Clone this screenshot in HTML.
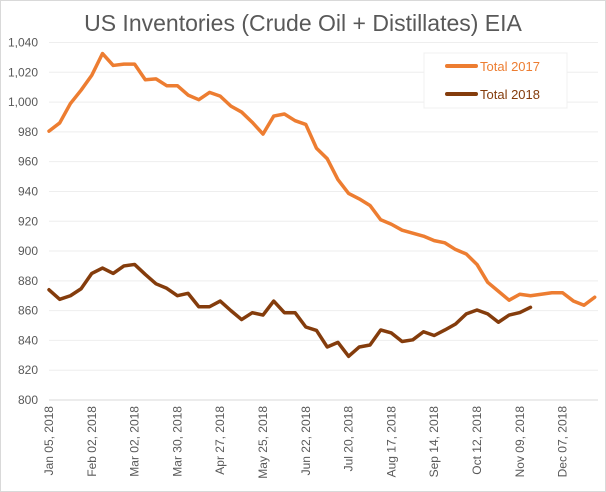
<!DOCTYPE html>
<html><head><meta charset="utf-8"><style>
html,body{margin:0;padding:0;background:#fff;}
svg{display:block;font-family:"Liberation Sans",sans-serif;}
</style></head><body>
<svg id="chart" width="606" height="492">
<rect x="0.5" y="0.5" width="605" height="491" fill="#fff" stroke="#d9d9d9"/>
<text x="303" y="31" text-anchor="middle" font-size="23" fill="#595959">US Inventories (Crude Oil + Distillates) EIA</text>
<g id="grid"></g><g id="yt"></g><g id="xt"></g><g id="lines"></g>
<g>
<rect x="424" y="53" width="143" height="55" fill="#fff" stroke="#f0f0f0"/>
<line x1="447" y1="66" x2="476" y2="66" stroke="#ED7D31" stroke-width="4" stroke-linecap="round"/>
<text x="480" y="71" font-size="13" fill="#ED7D31">Total 2017</text>
<line x1="447" y1="94" x2="476" y2="94" stroke="#843C0C" stroke-width="4" stroke-linecap="round"/>
<text x="480" y="99" font-size="13" fill="#843C0C">Total 2018</text>
</g>
</svg>
<script>
const yTicks=[800,820,840,860,880,900,920,940,960,980,1000,1020,1040];
const xLabels=["Jan 05, 2018","Feb 02, 2018","Mar 02, 2018","Mar 30, 2018","Apr 27, 2018","May 25, 2018","Jun 22, 2018","Jul 20, 2018","Aug 17, 2018","Sep 14, 2018","Oct 12, 2018","Nov 09, 2018","Dec 07, 2018"];
const total2017=[980.5,986,999,1008,1018,1032.6,1024.6,1025.5,1025.5,1015,1015.6,1011,1011,1004.7,1001.6,1006.5,1004,997.3,993.3,986.4,978.5,990.6,992,987.5,985,969,962,948,938.7,935,930.6,921,918,914,912,910,907,905.5,901,898,891,879,873,867,871,870,871,872,872,866.5,863.6,869];
const total2018=[874,867.6,870,874.7,885,888.6,885,890,891,884.3,878,875,870,871.6,862.6,862.6,866.4,860,854,858.6,857,866.4,858.6,858.6,849,846.7,835.6,838.7,829.3,835.6,836.9,847,845,839.3,840.4,845.8,843.3,847,851,857.8,860.4,857.8,852.2,857,858.7,862.2];
const NS="http://www.w3.org/2000/svg";
const X0=49,XSTEP=10.7,Y0=400,Y1=42.5,VMIN=800,VMAX=1040;
function xs(i){return X0+i*XSTEP;}
function ys(v){return Y0-(v-VMIN)/(VMAX-VMIN)*(Y0-Y1);}
function mk(tag,attrs,parent){const e=document.createElementNS(NS,tag);for(const k in attrs)e.setAttribute(k,attrs[k]);document.getElementById(parent).appendChild(e);return e;}
yTicks.forEach(v=>{
  const g=mk('line',{x1:X0,x2:598,y1:ys(v),y2:ys(v),stroke:v===VMIN?'#d9d9d9':'#eeeeee','stroke-width':1},'grid');
  
  
  const t=mk('text',{x:38,y:ys(v)+4,'text-anchor':'end','font-size':12,fill:'#595959'},'yt');
  t.textContent=v.toLocaleString('en-US');
  
  
});
xLabels.forEach((l,j)=>{
  const x=xs(j*4)+4,y=406;
  const t=mk('text',{x:x,y:y,'text-anchor':'end','font-size':12,fill:'#595959',transform:`rotate(-90 ${x} ${y})`},'xt');
  t.textContent=l;
  
  
});
function line(data,color,name){
  const p=mk('polyline',{points:data.map((v,i)=>xs(i)+','+ys(v)).join(' '),fill:'none',stroke:color,'stroke-width':3.5,'stroke-linejoin':'round','stroke-linecap':'round'},'lines');
  
  
}
line(total2017,'#ED7D31','series-total-2017');
line(total2018,'#843C0C','series-total-2018');
</script>
</body></html>
